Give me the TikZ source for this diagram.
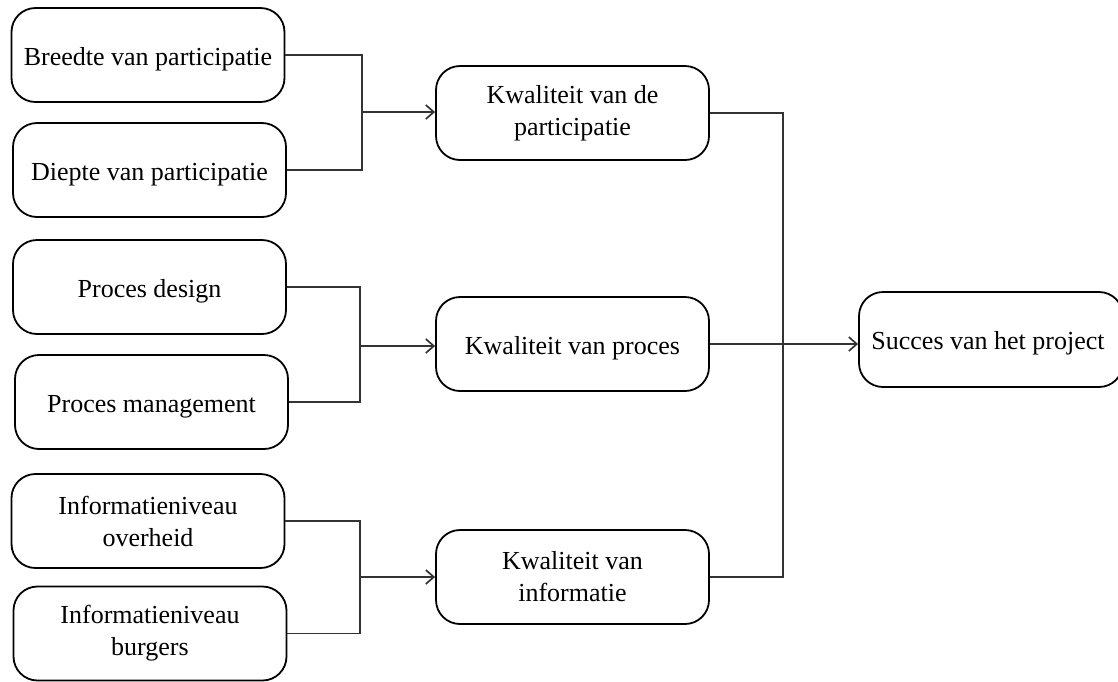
\documentclass[tikz,border=0pt]{standalone}
\usepackage{fontspec}
\setmainfont{Liberation Serif}
\usetikzlibrary{arrows.meta}
\definecolor{linegray}{HTML}{333333}
\begin{document}
\begin{tikzpicture}[x=1pt,y=-1pt,
  box/.style={draw=black, line width=1.8pt, rounded corners=24pt,
    minimum width=273pt, minimum height=94pt, align=center,
    font=\fontsize{26}{32}\selectfont, inner sep=0pt,
    execute at begin node={\rule{0pt}{26pt}}},
  conn/.style={draw=linegray, line width=1.7pt},
  arr/.style={conn, -{Straight Barb[length=8pt,width=14pt,line width=1.7pt]}}]
\useasboundingbox (0,0) rectangle (1118,681);
\clip (0,0) rectangle (1118,681);
% left column
\node[box] (b1) at (148,55) {Breedte van participatie};
\node[box] (b2) at (149.5,170) {Diepte van participatie};
\node[box] (p1) at (149.5,287) {Proces design};
\node[box] (p2) at (151.5,402) {Proces management};
\node[box] (i1) at (148,521) {Informatieniveau\\overheid};
\node[box] (i2) at (150,633.5) {Informatieniveau\\burgers};
% middle column
\node[box] (k1) at (572.5,113) {Kwaliteit van de\\participatie};
\node[box] (k2) at (572.5,344) {Kwaliteit van proces};
\node[box] (k3) at (572.5,577) {Kwaliteit van\\informatie};
% right
\node[box, minimum width=264pt, minimum height=95pt] (s) at (991,339.5) {\hspace*{-6pt}Succes van het project};
% junctions
\coordinate (j1) at (362,112);
\coordinate (j2) at (360,346);
\coordinate (j3) at (360,577);
\coordinate (jr) at (783,344);
\draw[conn] (b1.east) -| (j1) |- (b2.east);
\draw[arr] (j1) -- (j1 -| k1.west);
\draw[conn] (p1.east) -| (j2) |- (p2.east);
\draw[arr] (j2) -- (j2 -| k2.west);
\draw[conn] (i1.east) -| (j3) |- (i2.east);
\draw[arr] (j3) -- (j3 -| k3.west);
\draw[conn] (k1.east) -| (jr) |- (k3.east);
\draw[arr] (k2.east) -- (k2.east -| s.west);
\end{tikzpicture}
\end{document}
